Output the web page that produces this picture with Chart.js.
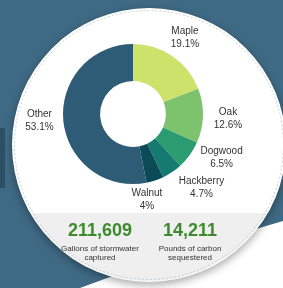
<!DOCTYPE html>
<html>
<head>
<meta charset="utf-8">
<script src="https://cdn.jsdelivr.net/npm/chart.js@4"></script>
<style>
  html, body { margin: 0; padding: 0; background: #3f6a85; }
  #wrap { position: relative; width: 283px; height: 288px; overflow: hidden; }
  canvas { position: absolute; left: 0; top: 0; }
  .stat { position: absolute; text-align: center; font-family: "Liberation Sans", Arial, sans-serif; }
  .num { font-weight: bold; font-size: 18px; line-height: 18px; color: #3d8a2c; }
  .cap { font-size: 8px; line-height: 9px; color: #333; }
</style>
</head>
<body>
<div id="wrap">
  <canvas id="c" width="283" height="288"></canvas>
  <div class="stat num" style="left:50px;width:100px;top:221px;" id="n1"></div>
  <div class="stat cap" style="left:45px;width:110px;top:244px;" id="c1"></div>
  <div class="stat num" style="left:140px;width:100px;top:221px;" id="n2"></div>
  <div class="stat cap" style="left:135px;width:110px;top:244px;" id="c2"></div>
</div>
<script>
// ---- data ----
const categories = ["Maple", "Oak", "Dogwood", "Hackberry", "Walnut", "Other"];
const shares = [19.1, 12.6, 6.5, 4.7, 4, 53.1];
const statValues = ["211,609", "14,211"];
const statCaptions = [["Gallons of stormwater", "captured"], ["Pounds of carbon", "sequestered"]];

// ---- styles ----
const sliceColors = ["#cde26b", "#7dc36d", "#2a9c70", "#157a6f", "#0b4b58", "#2e5b76"];
const labelNudge = [[0, 0], [3, 2], [14, -10], [17, -3], [-15, -2], [-2, -2]];

document.getElementById("n1").textContent = statValues[0];
document.getElementById("n2").textContent = statValues[1];
document.getElementById("c1").innerHTML = statCaptions[0].join("<br>");
document.getElementById("c2").innerHTML = statCaptions[1].join("<br>");

const backdrop = {
  id: "backdrop",
  beforeDraw(chart) {
    const ctx = chart.ctx;
    ctx.save();
    ctx.fillStyle = "#3f6a85";
    ctx.fillRect(0, 0, 283, 288);
    // darker strip at left edge
    ctx.fillStyle = "#2b4f64";
    ctx.fillRect(0, 128, 5, 60);
    // white swoosh bottom right
    ctx.fillStyle = "#ffffff";
    ctx.beginPath();
    ctx.moveTo(283, 221);
    ctx.quadraticCurveTo(180, 250, 80, 288);
    ctx.lineTo(283, 288);
    ctx.closePath();
    ctx.fill();
    // circle card
    const cx = 149, cy = 145, r = 137;
    ctx.shadowColor = "rgba(0,0,0,0.35)";
    ctx.shadowBlur = 8;
    ctx.shadowOffsetY = 3;
    ctx.fillStyle = "#ffffff";
    ctx.beginPath(); ctx.arc(cx, cy, r, 0, Math.PI * 2); ctx.fill();
    ctx.shadowColor = "transparent";
    // gray lower band
    ctx.save();
    ctx.beginPath(); ctx.arc(cx, cy, r - 1, 0, Math.PI * 2); ctx.clip();
    ctx.fillStyle = "#efefef";
    ctx.fillRect(0, 213, 283, 80);
    ctx.restore();
    // dotted inner ring
    ctx.strokeStyle = "#b9c3cc";
    ctx.lineWidth = 0.8;
    ctx.setLineDash([2, 2]);
    ctx.beginPath(); ctx.arc(cx, cy, r - 2.5, 0, Math.PI * 2); ctx.stroke();
    ctx.restore();
  }
};

const sliceLabels = {
  id: "sliceLabels",
  afterDatasetsDraw(chart) {
    const ctx = chart.ctx;
    const meta = chart.getDatasetMeta(0);
    ctx.save();
    ctx.font = "10px 'Liberation Sans', Arial, sans-serif";
    ctx.fillStyle = "#333333";
    ctx.textAlign = "center";
    ctx.textBaseline = "middle";
    meta.data.forEach((arc, i) => {
      const p = arc.getProps(["x", "y", "startAngle", "endAngle", "outerRadius"], true);
      const a = (p.startAngle + p.endAngle) / 2;
      const rr = p.outerRadius + 22;
      const x = p.x + Math.cos(a) * rr + labelNudge[i][0];
      const y = p.y + Math.sin(a) * rr + labelNudge[i][1];
      ctx.fillText(categories[i], x, y - 6.5);
      ctx.fillText(shares[i] + "%", x, y + 6.5);
    });
    ctx.restore();
  }
};

new Chart(document.getElementById("c"), {
  type: "doughnut",
  data: {
    labels: categories,
    datasets: [{
      data: shares,
      backgroundColor: sliceColors,
      borderWidth: 0,
      hoverOffset: 0
    }]
  },
  options: {
    responsive: false,
    devicePixelRatio: 1,
    animation: false,
    cutout: "47%",
    layout: { padding: { left: 63, right: 80, top: 44, bottom: 104 } },
    plugins: { legend: { display: false }, tooltip: { enabled: false } }
  },
  plugins: [backdrop, sliceLabels]
});
</script>
</body>
</html>
